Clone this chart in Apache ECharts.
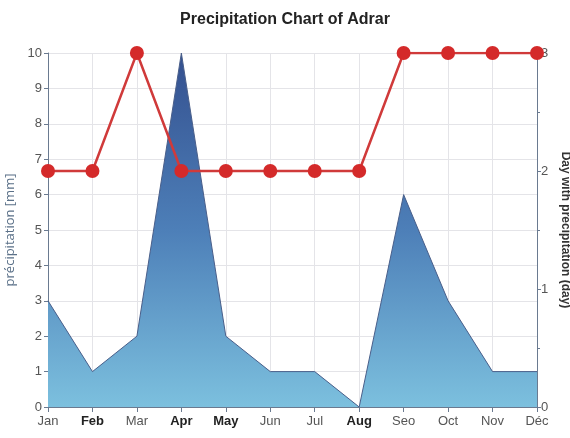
<!DOCTYPE html>
<html>
<head>
<meta charset="utf-8">
<script src="https://cdn.jsdelivr.net/npm/echarts@6/dist/echarts.min.js"></script>
<style>html,body{margin:0;padding:0;background:#fff}#chart{width:570px;height:438px}</style>
</head>
<body>
<div id="chart"></div>
<script>
// categories and values
const months = ['Jan', 'Feb', 'Mar', 'Apr', 'May', 'Jun', 'Jul', 'Aug', 'Seo', 'Oct', 'Nov', 'Déc']
const boldMonths = ['Feb', 'Apr', 'May', 'Aug']
const precipitation = [3, 1, 2, 10, 2, 1, 1, 0, 6, 3, 1, 1]
const rainDays = [2, 2, 3, 2, 2, 2, 2, 2, 3, 3, 3, 3]

let myChart = echarts.init(document.getElementById('chart'))

let option = {
  animation: false,
  title: {
    text: 'Precipitation Chart of Adrar',
    left: 'center',
    top: 7,
    textStyle: { fontFamily: 'Liberation Sans', fontSize: 16, fontWeight: 'bold', color: '#222' }
  },
  grid: { left: 48, right: 33, top: 53, bottom: 31, outerBoundsMode: 'none', containLabel: false },
  xAxis: {
    type: 'category',
    data: months,
    boundaryGap: false,
    axisLine: { lineStyle: { color: '#6a7a90' } },
    axisTick: { show: true, alignWithLabel: true, lineStyle: { color: '#6a7a90' } },
    splitLine: { show: true, lineStyle: { color: '#e4e4e8' } },
    axisLabel: {
      interval: 0,
      margin: 8,
      fontFamily: 'Liberation Sans',
      fontSize: 13,
      formatter: function (v) {
        return boldMonths.indexOf(v) >= 0 ? '{b|' + v + '}' : '{n|' + v + '}'
      },
      rich: {
        n: { color: '#555', fontSize: 13, fontFamily: 'Liberation Sans Narrow, Liberation Sans' },
        b: { color: '#222', fontSize: 13, fontWeight: 'bold', fontFamily: 'Liberation Sans' }
      }
    }
  },
  yAxis: [
    {
      type: 'value',
      min: 0,
      max: 10,
      interval: 1,
      name: 'précipitation [mm]',
      nameLocation: 'middle',
      nameGap: 22,
      nameTextStyle: { color: '#5a7088', fontSize: 13, fontFamily: 'Open Sans' },
      axisLine: { show: true, lineStyle: { color: '#6a7a90' } },
      axisTick: { show: true, inside: false, length: 4, lineStyle: { color: '#6a7a90' } },
      axisLabel: { color: '#555', fontSize: 13, margin: 6, fontFamily: 'Liberation Sans Narrow, Liberation Sans' },
      splitLine: { show: true, lineStyle: { color: '#e4e4e8' } }
    },
    {
      type: 'value',
      min: 0,
      max: 3,
      interval: 1,
      name: 'Day with precipitation (day)',
      nameLocation: 'middle',
      nameGap: 22,
      nameRotate: -90,
      nameTextStyle: { color: '#333', fontSize: 12, fontWeight: 'bold', fontFamily: 'Liberation Sans' },
      axisLine: { show: true, lineStyle: { color: '#6a7a90' } },
      axisTick: { show: true, length: 4, lineStyle: { color: '#6a7a90' } },
      minorTick: { show: true, splitNumber: 2, length: 3, lineStyle: { color: '#6a7a90' } },
      axisLabel: { color: '#555', fontSize: 13, margin: 4, fontFamily: 'Liberation Sans Narrow, Liberation Sans' },
      splitLine: { show: false }
    }
  ],
  series: [
    {
      name: 'précipitation',
      type: 'line',
      yAxisIndex: 0,
      data: precipitation,
      symbol: 'none',
      lineStyle: { color: '#4a5f8a', width: 1 },
      areaStyle: {
        opacity: 1,
        color: new echarts.graphic.LinearGradient(0, 0, 0, 1, [
          { offset: 0, color: '#34508f' },
          { offset: 0.5, color: '#4d7fb8' },
          { offset: 1, color: '#7cc0de' }
        ])
      },
      z: 1
    },
    {
      name: 'days',
      type: 'line',
      yAxisIndex: 1,
      data: rainDays,
      symbol: 'circle',
      symbolSize: 14,
      itemStyle: { color: '#d42a2a' },
      lineStyle: { color: '#d03a3a', width: 2.5 },
      z: 3
    }
  ]
}

myChart.setOption(option)
</script>
</body>
</html>
